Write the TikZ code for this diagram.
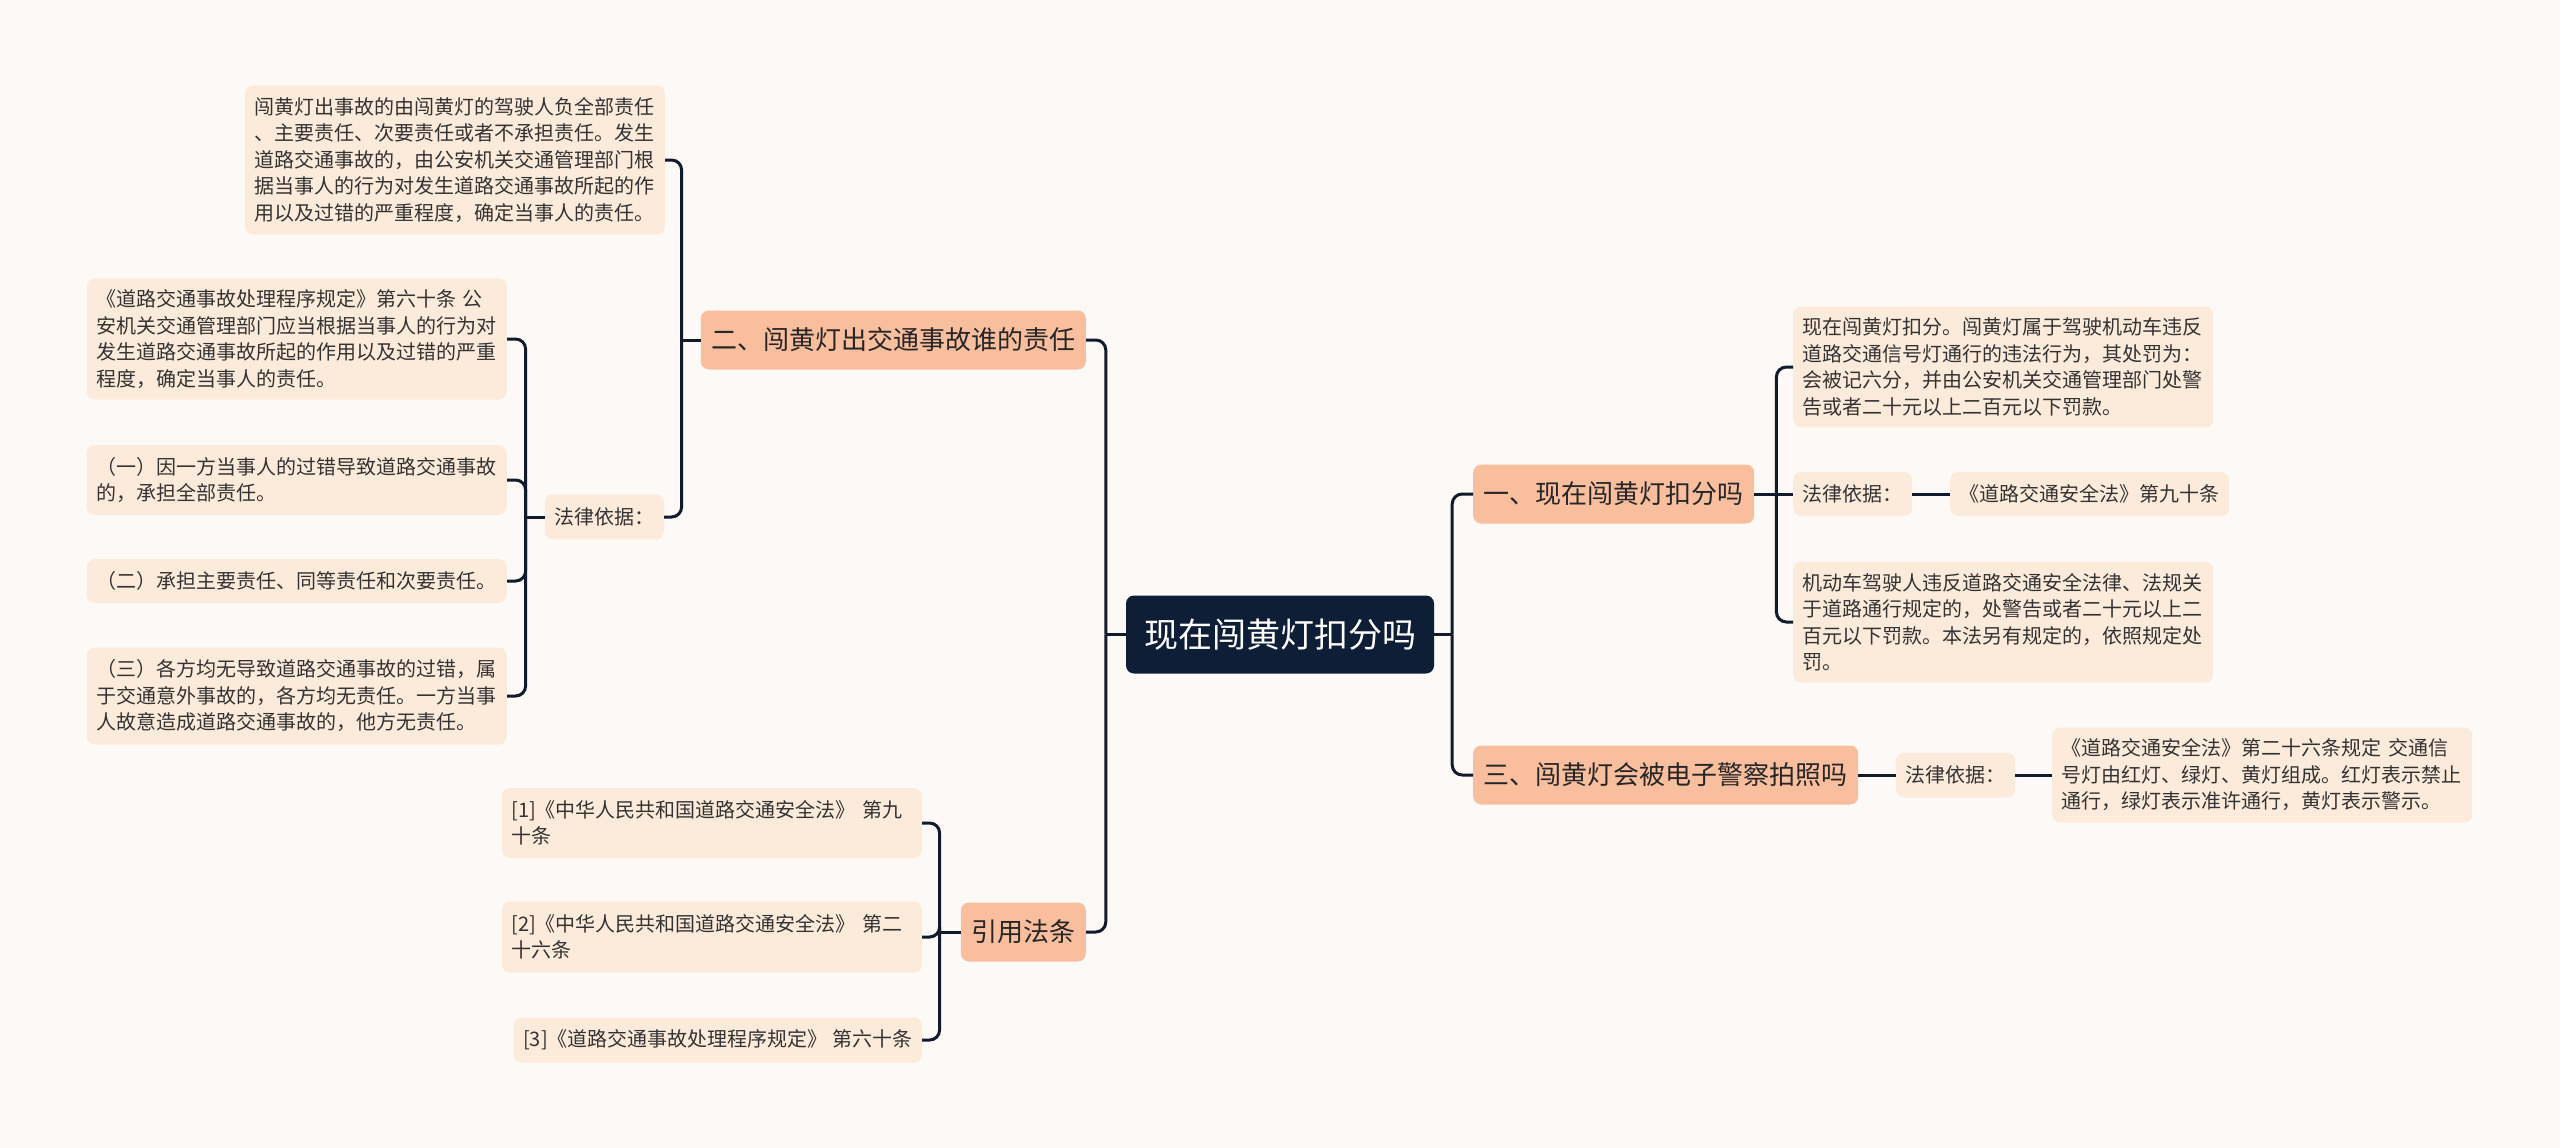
\documentclass[tikz,border=0pt]{standalone}
\usepackage{fontspec}
\newfontfamily\cjk{Noto Sans CJK SC}
\definecolor{bgc}{HTML}{FCF9F7}
\definecolor{leafc}{HTML}{FCEBDA}
\definecolor{l1c}{HTML}{F9BE9E}
\definecolor{rootc}{HTML}{0E1E37}
\definecolor{linec}{HTML}{121B2C}
\definecolor{txt}{HTML}{333333}
\definecolor{txtone}{HTML}{262626}
\tikzset{
  conn/.style={draw=linec, line width=3pt, rounded corners=10pt},
  leaf/.style={fill=leafc, rounded corners=8pt, inner xsep=9.5pt, inner ysep=0pt, align=left, text=txt, font=\cjk\fontsize{20pt}{26.5pt}\selectfont},
  wideleaf/.style={leaf, text width=401pt},
  lone/.style={fill=l1c, rounded corners=8pt, inner xsep=10.5pt, inner ysep=0pt, minimum height=59pt, text=txtone, font=\cjk\fontsize{26pt}{30pt}\selectfont},
  rootbox/.style={fill=rootc, rounded corners=8pt, minimum width=308pt, minimum height=78pt, inner sep=0pt, text=white, font=\cjk\fontsize{34pt}{40pt}\selectfont}
}
\begin{document}
\begin{tikzpicture}[x=1pt, y=-1pt]
\path[fill=bgc, use as bounding box] (0,0) rectangle (2560,1148);

% root
\node[rootbox] (root) at (1280,634.5) {现在闯黄灯扣分吗};

% level 1
\node[lone, anchor=west] (n1) at (1473,494) {一、现在闯黄灯扣分吗};
\node[lone, anchor=west] (n3) at (1473,775) {三、闯黄灯会被电子警察拍照吗};
\node[lone, anchor=east] (n2) at (1086,340) {二、闯黄灯出交通事故谁的责任};
\node[lone, anchor=east] (n4) at (1086,932) {引用法条};

% right side leaves
\node[wideleaf, anchor=west, minimum height=121pt] (r1) at (1793,367) {现在闯黄灯扣分。闯黄灯属于驾驶机动车违反\\道路交通信号灯通行的违法行为，其处罚为：\\会被记六分，并由公安机关交通管理部门处警\\告或者二十元以上二百元以下罚款。};
\node[leaf, anchor=west, minimum height=44pt] (r2) at (1793,494) {法律依据：};
\node[leaf, anchor=west, minimum height=44pt] (r2b) at (1950,494) {《道路交通安全法》第九十条};
\node[wideleaf, anchor=west, minimum height=121pt] (r3) at (1793,622) {机动车驾驶人违反道路交通安全法律、法规关\\于道路通行规定的，处警告或者二十元以上二\\百元以下罚款。本法另有规定的，依照规定处\\罚。};
\node[leaf, anchor=west, minimum height=45pt] (r4) at (1896,775) {法律依据：};
\node[wideleaf, anchor=west, minimum height=95pt] (r5) at (2052,775) {《道路交通安全法》第二十六条规定 交通信\\号灯由红灯、绿灯、黄灯组成。红灯表示禁止\\通行，绿灯表示准许通行，黄灯表示警示。};

% left side leaves
\node[wideleaf, anchor=east, minimum height=149pt] (t1) at (665,160) {闯黄灯出事故的由闯黄灯的驾驶人负全部责任\\、主要责任、次要责任或者不承担责任。发生\\道路交通事故的，由公安机关交通管理部门根\\据当事人的行为对发生道路交通事故所起的作\\用以及过错的严重程度，确定当事人的责任。};
\node[leaf, anchor=east, minimum height=45pt] (lawL) at (664,517) {法律依据：};
\node[wideleaf, anchor=east, minimum height=121pt] (a1) at (507,339) {《道路交通事故处理程序规定》第六十条 公\\安机关交通管理部门应当根据当事人的行为对\\发生道路交通事故所起的作用以及过错的严重\\程度，确定当事人的责任。};
\node[wideleaf, anchor=east, minimum height=70pt] (a2) at (507,480) {（一）因一方当事人的过错导致道路交通事故\\的，承担全部责任。};
\node[wideleaf, anchor=east, minimum height=44pt] (a3) at (507,581) {（二）承担主要责任、同等责任和次要责任。};
\node[wideleaf, anchor=east, minimum height=97pt] (a4) at (507,696) {（三）各方均无导致道路交通事故的过错，属\\于交通意外事故的，各方均无责任。一方当事\\人故意造成道路交通事故的，他方无责任。};

% citations
\node[wideleaf, anchor=east, minimum height=70pt] (c1) at (922,823) {[1]《中华人民共和国道路交通安全法》 第九\\十条};
\node[wideleaf, anchor=east, minimum height=71pt] (c2) at (922,937) {[2]《中华人民共和国道路交通安全法》 第二\\十六条};
\node[leaf, anchor=east, minimum height=45pt] (c3) at (922,1040) {[3]《道路交通事故处理程序规定》 第六十条};

% connectors: root
\coordinate (bR) at ([xshift=18pt]root.east);
\draw[conn] (root.east) -- (bR);
\draw[conn] (bR) |- (n1.west);
\draw[conn] (bR) |- (n3.west);
\coordinate (bL) at ([xshift=-20pt]root.west);
\draw[conn] (root.west) -- (bL);
\draw[conn] (bL) |- (n2.east);
\draw[conn] (bL) |- (n4.east);

% n1 children
\coordinate (b1) at ([xshift=22pt]n1.east);
\draw[conn] (n1.east) -- (b1);
\draw[conn] (b1) |- (r1.west);
\draw[conn] (b1) -- (r2.west);
\draw[conn] (b1) |- (r3.west);
\draw[conn] (r2.east) -- (r2b.west);

% n3 children
\draw[conn] (n3.east) -- (r4.west);
\draw[conn] (r4.east) -- (r5.west);

% n2 children
\coordinate (b2) at ([xshift=-19pt]n2.west);
\draw[conn] (n2.west) -- (b2);
\draw[conn] (b2) |- (t1.east);
\draw[conn] (b2) |- (lawL.east);

% law (left) children
\coordinate (bLaw) at ([xshift=-19pt]lawL.west);
\draw[conn] (lawL.west) -- (bLaw);
\draw[conn] (bLaw) |- (a1.east);
\draw[conn] (bLaw) |- (a2.east);
\draw[conn] (bLaw) |- (a3.east);
\draw[conn] (bLaw) |- (a4.east);

% n4 children
\coordinate (b4) at ([xshift=-21pt]n4.west);
\draw[conn] (n4.west) -- (b4);
\draw[conn] (b4) |- (c1.east);
\draw[conn] (b4) |- (c2.east);
\draw[conn] (b4) |- (c3.east);
\end{tikzpicture}
\end{document}
